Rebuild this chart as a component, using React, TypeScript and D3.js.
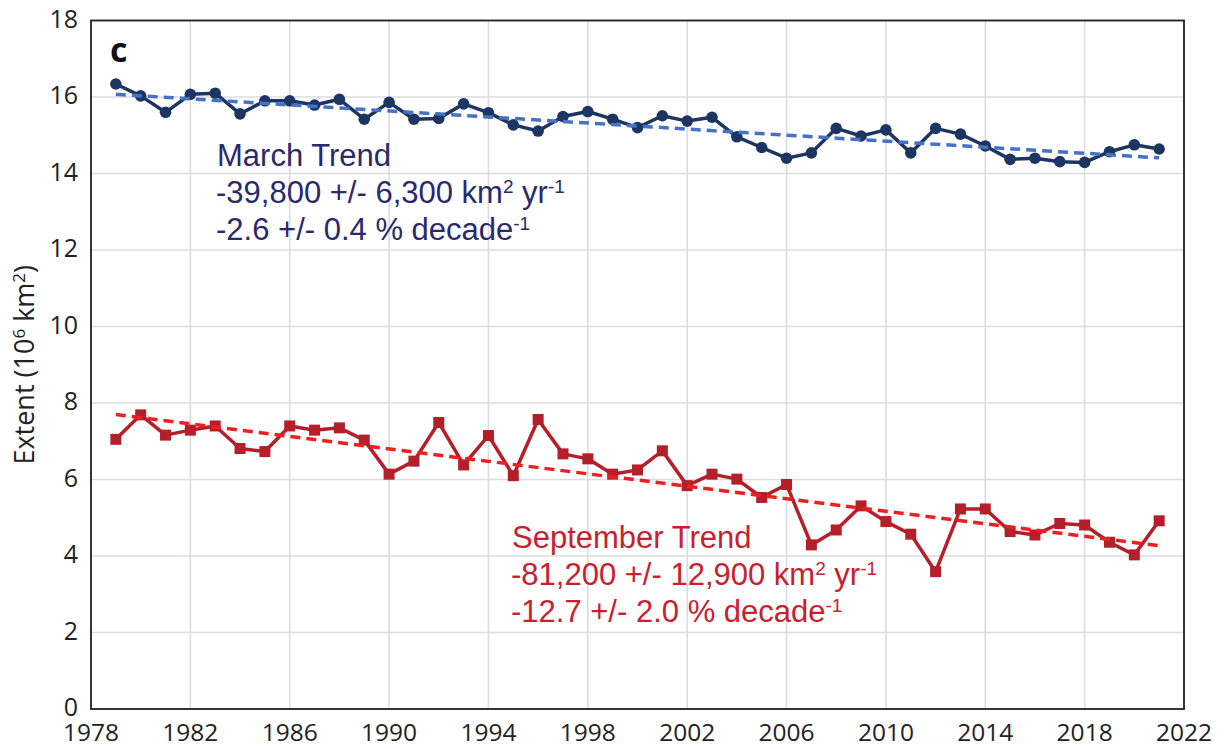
import * as d3 from "d3";
import React from "react";

// years 1979..2021
const years: number[] = d3.range(1979, 2022);

// March extent (10^6 km^2)
const marchValues: number[] = [
  16.34, 16.03, 15.6, 16.07, 16.1, 15.56, 15.9, 15.9, 15.79, 15.94, 15.42, 15.86, 15.42,
  15.44, 15.82, 15.59, 15.27, 15.11, 15.49, 15.62, 15.42, 15.2, 15.51, 15.37, 15.47,
  14.96, 14.68, 14.4, 14.54, 15.18, 14.98, 15.14, 14.54, 15.18, 15.03, 14.72, 14.37,
  14.4, 14.31, 14.29, 14.57, 14.75, 14.64,
];

// September extent (10^6 km^2)
const septValues: number[] = [
  7.05, 7.69, 7.16, 7.29, 7.4, 6.81, 6.73, 7.4, 7.29, 7.35, 7.03, 6.14, 6.48, 7.49, 6.38,
  7.15, 6.1, 7.57, 6.67, 6.54, 6.14, 6.25, 6.75, 5.84, 6.14, 6.01, 5.53, 5.87, 4.29,
  4.68, 5.31, 4.9, 4.57, 3.59, 5.23, 5.23, 4.64, 4.55, 4.85, 4.81, 4.36, 4.03, 4.92,
];

// trend end points [1979, 2021]
const marchTrend: [number, number][] = [[1979, 16.07], [2021, 14.41]];
const septTrend: [number, number][] = [[1979, 7.7], [2021, 4.27]];

const xTicks: number[] = d3.range(1978, 2023, 4);
const yTicks: number[] = d3.range(0, 19, 2);

const W = 1225;
const H = 749;
const margin = { top: 20.5, right: 41, bottom: 40, left: 91 };

const tickFont = "'Open Sans', 'Noto Sans', sans-serif";
const noteFont = "'Liberation Sans', Arial, sans-serif";

const App = () => {
  const x = d3.scaleLinear().domain([1978, 2022]).range([margin.left, W - margin.right]);
  const y = d3.scaleLinear().domain([0, 18]).range([H - margin.bottom, margin.top]);

  const line = d3
    .line<number>()
    .x((_, i) => x(years[i]))
    .y((d) => y(d));
  const trendLine = d3
    .line<[number, number]>()
    .x((d) => x(d[0]))
    .y((d) => y(d[1]));

  const navy = "#1d3562";
  const darkRed = "#b41f2a";
  const marchText = "#29296b";
  const septText = "#c9202e";

  const sup = (s: string, size: number) => (
    <tspan fontSize={size} dy={-size * 0.55}>{s}</tspan>
  );

  return (
    <svg
      width={W}
      height={H}
      style={{ position: "absolute", left: 0, top: 0, display: "block", background: "#fff" }}
    >
      {/* grid */}
      <g stroke="#dcdce2" strokeWidth={1.6}>
        {xTicks.map((t) => (
          <line key={"gx" + t} x1={x(t)} x2={x(t)} y1={y(0)} y2={y(18)} />
        ))}
        {yTicks.map((t) => (
          <line key={"gy" + t} x1={x(1978)} x2={x(2022)} y1={y(t)} y2={y(t)} />
        ))}
      </g>
      {/* frame */}
      <rect
        x={x(1978)}
        y={y(18)}
        width={x(2022) - x(1978)}
        height={y(0) - y(18)}
        fill="none"
        stroke="#222"
        strokeWidth={1.8}
      />

      {/* tick labels */}
      <g fontFamily={tickFont} fontSize={25} fill="#222">
        {yTicks.map((t) => (
          <text key={"ly" + t} x={x(1978) - 13} y={y(t)} dy="0.28em" textAnchor="end">
            {t}
          </text>
        ))}
      </g>
      <g fontFamily={tickFont} fontSize={24.5} fill="#222">
        {xTicks.map((t) => (
          <text key={"lx" + t} x={x(t)} y={741} textAnchor="middle">
            {t}
          </text>
        ))}
      </g>

      {/* y title */}
      <text
        transform={`translate(34, ${(y(0) + y(18)) / 2}) rotate(-90)`}
        textAnchor="middle"
        fontFamily={tickFont}
        fontSize={27}
        fill="#222"
      >
        Extent (10{sup("6", 17)}
        <tspan dy={17 * 0.55}> km</tspan>
        {sup("2", 17)}
        <tspan dy={17 * 0.55}>)</tspan>
      </text>

      {/* panel letter */}
      <text x={110} y={62} fontFamily={tickFont} fontWeight="bold" fontSize={34} fill="#111">
        c
      </text>

      {/* March series */}
      <path d={line(marchValues) || ""} fill="none" stroke={navy} strokeWidth={3.5} strokeLinejoin="round" />
      {marchValues.map((v, i) => (
        <circle key={"m" + i} cx={x(years[i])} cy={y(v)} r={5.8} fill={navy} />
      ))}
      <path
        d={trendLine(marchTrend) || ""}
        fill="none"
        stroke="#4472c4"
        strokeWidth={3.5}
        strokeDasharray="10 6"
      />

      {/* September series */}
      <path d={line(septValues) || ""} fill="none" stroke={darkRed} strokeWidth={3.5} strokeLinejoin="round" />
      {septValues.map((v, i) => (
        <rect key={"s" + i} x={x(years[i]) - 5.5} y={y(v) - 5.5} width={11} height={11} fill={darkRed} />
      ))}
      <path
        d={trendLine(septTrend) || ""}
        fill="none"
        stroke="#ef1f1f"
        strokeWidth={3.5}
        strokeDasharray="10 6"
      />

      {/* March annotation */}
      <g fontFamily={noteFont} fontSize={31} fill={marchText}>
        <text x={217} y={166}>March Trend</text>
        <text x={216} y={203}>
          -39,800 +/- 6,300 km{sup("2", 19)}
          <tspan dy={19 * 0.55}> yr</tspan>
          {sup("-1", 19)}
        </text>
        <text x={216} y={240}>
          -2.6 +/- 0.4 % decade{sup("-1", 19)}
        </text>
      </g>

      {/* September annotation */}
      <g fontFamily={noteFont} fontSize={31} fill={septText}>
        <text x={512} y={548}>September Trend</text>
        <text x={511} y={585}>
          -81,200 +/- 12,900 km{sup("2", 19)}
          <tspan dy={19 * 0.55}> yr</tspan>
          {sup("-1", 19)}
        </text>
        <text x={511} y={622}>
          -12.7 +/- 2.0 % decade{sup("-1", 19)}
        </text>
      </g>
    </svg>
  );
};

export default App;
